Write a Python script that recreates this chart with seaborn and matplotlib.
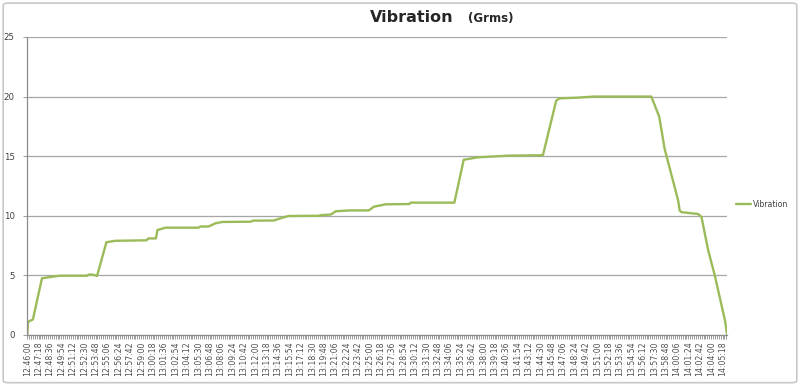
import pandas as pd
import matplotlib.pyplot as plt
import seaborn as sns
from matplotlib.patches import FancyBboxPatch
from matplotlib.ticker import MultipleLocator

# readings of the vibration level (Grms) over the test run
times = ['12:46:00', '12:46:06', '12:46:39', '12:47:41', '12:48:58', '12:49:46',
         '12:52:49', '12:53:05', '12:53:32', '12:53:58', '12:55:02', '12:56:03',
         '12:59:36', '12:59:50', '13:00:41', '13:00:51', '13:01:46', '13:05:32',
         '13:05:46', '13:06:41', '13:07:29', '13:08:15', '13:11:29', '13:11:43',
         '13:14:07', '13:15:06', '13:15:49', '13:19:15', '13:19:29', '13:20:37',
         '13:21:12', '13:22:54', '13:24:58', '13:25:32', '13:26:54', '13:29:32',
         '13:29:46', '13:34:43', '13:35:47', '13:37:23', '13:40:49', '13:44:49',
         '13:46:20', '13:46:43', '13:48:37', '13:50:40', '13:57:11', '13:58:05',
         '13:58:42', '14:00:14', '14:00:25', '14:00:37', '14:02:31', '14:02:54',
         '14:03:40', '14:04:25', '14:05:34', '14:05:50']
vibration = [0.0, 1.1, 1.3, 4.75, 4.9, 4.97,
             4.97, 5.08, 5.05, 4.95, 7.78, 7.9,
             7.94, 8.1, 8.1, 8.8, 9.0, 9.0,
             9.1, 9.1, 9.37, 9.48, 9.5, 9.59,
             9.6, 9.84, 9.98, 10.0, 10.05, 10.1,
             10.38, 10.45, 10.45, 10.76, 10.96, 10.98,
             11.1, 11.1, 14.7, 14.9, 15.04, 15.08,
             19.66, 19.85, 19.9, 20.0, 20.0, 18.3,
             15.6, 11.3, 10.43, 10.3, 10.15, 9.9,
             7.1, 5.0, 1.26, 0.0]

tick_labels = ['12:46:00', '12:47:18', '12:48:36', '12:49:54', '12:51:12', '12:52:30',
               '12:53:48', '12:55:06', '12:56:24', '12:57:42', '12:59:00', '13:00:18',
               '13:01:36', '13:02:54', '13:04:12', '13:05:30', '13:06:48', '13:08:06',
               '13:09:24', '13:10:42', '13:12:00', '13:13:18', '13:14:36', '13:15:54',
               '13:17:12', '13:18:30', '13:19:48', '13:21:06', '13:22:24', '13:23:42',
               '13:25:00', '13:26:18', '13:27:36', '13:28:54', '13:30:12', '13:31:30',
               '13:32:48', '13:34:06', '13:35:24', '13:36:42', '13:38:00', '13:39:18',
               '13:40:36', '13:41:54', '13:43:12', '13:44:30', '13:45:48', '13:47:06',
               '13:48:24', '13:49:42', '13:51:00', '13:52:18', '13:53:36', '13:54:54',
               '13:56:12', '13:57:30', '13:58:48', '14:00:06', '14:01:24', '14:02:42',
               '14:04:00', '14:05:18']

start = pd.to_timedelta(times[0]).total_seconds()
df = pd.DataFrame({
    'sec': [pd.to_timedelta(t).total_seconds() - start for t in times],
    'Vibration': vibration,
})
tick_pos = [pd.to_timedelta(t).total_seconds() - start for t in tick_labels]

sns.set_style('white')
plt.rcParams['font.family'] = ['DejaVu Sans']

fig = plt.figure(figsize=(8, 3.85), dpi=100)
ax = fig.add_axes([0.034, 0.130, 0.875, 0.774])

sns.lineplot(data=df, x='sec', y='Vibration', ax=ax, color='#9bbb59',
             linewidth=1.7, label='Vibration')

ax.set_xlim(0, df['sec'].iloc[-1])
ax.set_ylim(0, 25)
ax.set_yticks(range(0, 26, 5))
ax.yaxis.grid(True, color='#a6a6a6', linewidth=0.9)
ax.set_xticks(tick_pos)
ax.set_xticklabels(tick_labels, rotation=90, fontsize=5.6, color='#505050')
ax.xaxis.set_minor_locator(MultipleLocator(13))
ax.tick_params(axis='x', which='both', direction='out', length=3, width=0.6,
               color='#8c8c8c', bottom=True, pad=1.5)
ax.tick_params(axis='y', labelsize=6.2, labelcolor='#404040', length=3, width=0.6,
               color='#8c8c8c', left=True, pad=6)
ax.set_xlabel('')
ax.set_ylabel('')
for side in ['top', 'right']:
    ax.spines[side].set_visible(False)
for side in ['left', 'bottom']:
    ax.spines[side].set_color('#8c8c8c')
    ax.spines[side].set_linewidth(0.9)

leg = ax.legend(loc='center left', bbox_to_anchor=(0.915, 0.47),
                bbox_transform=fig.transFigure, frameon=False, fontsize=5.6,
                handlelength=2.0, handletextpad=0.15, borderpad=0)
for t in leg.get_texts():
    t.set_color('#404040')

fig.text(0.462, 0.955, 'Vibration', fontsize=11.5, fontweight='bold',
         ha='left', va='center')
fig.text(0.585, 0.953, '(Grms)', fontsize=8.5, fontweight='bold',
         ha='left', va='center')

fig.patches.append(FancyBboxPatch((0.004, 0.006), 0.992, 0.986,
                                  boxstyle='round,pad=0,rounding_size=0.006',
                                  transform=fig.transFigure, fill=False,
                                  edgecolor='#c8c8c8', linewidth=1.2))

fig.savefig('out.png', dpi=100, facecolor='white')
